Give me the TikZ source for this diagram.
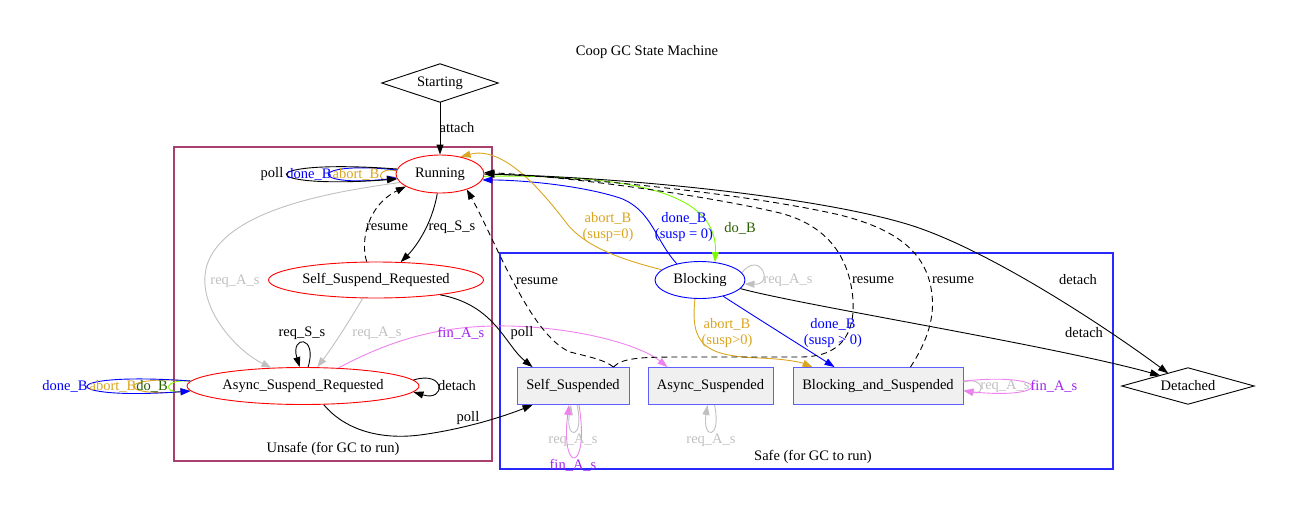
\documentclass[tikz,border=0pt]{standalone}
\usepackage{fontspec}
\setmainfont{Liberation Serif}
\usetikzlibrary{arrows.meta,calc,shapes.geometric}
\definecolor{maroonc}{RGB}{168,64,110}
\definecolor{safeblue}{RGB}{0,0,255}
\definecolor{clblue}{RGB}{40,40,255}
\definecolor{goldc}{RGB}{218,165,32}
\definecolor{greenc}{RGB}{124,252,0}
\definecolor{dgreen}{RGB}{40,95,0}
\definecolor{grayc}{RGB}{192,192,192}
\definecolor{violetc}{RGB}{238,130,238}
\definecolor{purplec}{RGB}{160,32,240}
\definecolor{boxfill}{RGB}{240,240,240}
\definecolor{boxline}{RGB}{95,95,255}
\tikzset{
  every node/.style={font=\fontsize{14.5}{16.5}\selectfont},
  ellnode/.style={ellipse, draw=red, line width=0.9pt, inner sep=0pt},
  boxnode/.style={rectangle, draw=boxline, fill=boxfill, line width=0.9pt, inner sep=0pt, minimum height=37pt},
  lbl/.style={inner sep=0pt, align=center},
  conn/.style={line width=0.9pt, -{Triangle[length=10pt,width=7pt]}},
  dconn/.style={conn, dash pattern=on 6pt off 4pt},
  clusterline/.style={line width=1.1pt}
}
\begin{document}
\begin{tikzpicture}[x=1pt,y=-1pt]
\useasboundingbox (0,0) rectangle (1295,520);

% clusters
\draw[clusterline, draw=maroonc] (174,147) rectangle (492,461);
\draw[clusterline, draw=clblue] (500,253) rectangle (1113,469);
\node[lbl] (unsafe) at (333,449) {Unsafe (for GC to run)};
\node[lbl] (safe) at (813,457) {Safe (for GC to run)};
\node[lbl] (title) at (647,52) {Coop GC State Machine};

% nodes
\node[minimum width=116pt, minimum height=38pt, inner sep=0pt] (Starting) at (440,83) {Starting};
\draw[line width=0.9pt] (Starting.north) -- (Starting.east) -- (Starting.south) -- (Starting.west) -- cycle;
\node[minimum width=132pt, minimum height=36pt, inner sep=0pt] (Detached) at (1188,386) {Detached};
\draw[line width=0.9pt] (Detached.north) -- (Detached.east) -- (Detached.south) -- (Detached.west) -- cycle;
\node[ellnode, minimum width=88pt, minimum height=38pt] (Running) at (440,174) {Running};
\node[ellnode, minimum width=215pt, minimum height=36pt] (SSR) at (376,280) {Self\_Suspend\_Requested};
\node[ellnode, minimum width=232pt, minimum height=37pt] (ASR) at (303,386) {Async\_Suspend\_Requested};
\node[ellnode, draw=safeblue, minimum width=90pt, minimum height=37pt] (Blocking) at (700,280) {Blocking};
\node[boxnode, minimum width=112pt] (SS) at (573,386) {Self\_Suspended};
\node[boxnode, minimum width=125pt] (AS) at (710.5,386) {Async\_Suspended};
\node[boxnode, minimum width=170pt] (BaS) at (878,386) {Blocking\_and\_Suspended};

% Starting -> Running
\draw[conn] (Starting.south) -- (Running.north);
\node[lbl] (l-attach) at (457,128) {attach};

% Running -> SSR
\draw[conn] (Running.-98) .. controls (432,225) and (415,248) .. (SSR.36);
\node[lbl] (l-reqS1) at (452,227) {req\_S\_s};
% SSR -> Running resume
\draw[dconn] (SSR.117) .. controls (360,240) and (368,205) .. (Running.-160);
\node[lbl] (l-res1) at (387,227) {resume};

% Running -> ASR req_A_s
\draw[conn, grayc] (Running.-168) .. controls (330,192) and (225,210) .. (207,265) .. controls (195,305) and (235,350) .. (ASR.150);
\node[lbl, text=grayc] (l-reqA1) at (235,281) {req\_A\_s};
% SSR -> ASR req_A_s
\draw[conn, grayc] (SSR.-126) .. controls (350,320) and (332,348) .. (ASR.53);
\node[lbl, text=grayc] (l-reqA2) at (377,333) {req\_A\_s};

% ASR loops
\draw[conn] (ASR.75) .. controls (318,335) and (290,335) .. (ASR.100);
\node[lbl] (l-reqS2) at (302,333) {req\_S\_s};
\draw[conn] ([yshift=6pt,xshift=-6pt]ASR.east) .. controls (446,370) and (446,402) .. ([yshift=-6pt,xshift=-6pt]ASR.east);
\node[lbl] (l-det1) at (457,386) {detach};
\draw[conn, greenc] ([yshift=5pt,xshift=4pt]ASR.west) .. controls (163,379) and (163,393) .. ([yshift=-5pt,xshift=4pt]ASR.west);
\draw[conn, goldc] ([yshift=5pt,xshift=4pt]ASR.west) .. controls (116,375) and (116,397) .. ([yshift=-5pt,xshift=4pt]ASR.west);
\draw[conn, safeblue] ([yshift=5pt,xshift=4pt]ASR.west) .. controls (54,371) and (54,401) .. ([yshift=-5pt,xshift=4pt]ASR.west);
\node[lbl, text=safeblue] (l-doneA) at (65,386) {done\_B};
\node[lbl, text=goldc] (l-abortA) at (113,386) {abort\_B};
\node[lbl, text=dgreen] (l-doA) at (152,386) {do\_B};

% Running loops
\draw[conn, goldc] ([yshift=3pt,xshift=1.5pt]Running.west) .. controls (377,166) and (377,182) .. ([yshift=-3pt,xshift=1.5pt]Running.west);
\draw[conn, safeblue] ([yshift=4pt,xshift=1.5pt]Running.west) .. controls (307,160) and (307,188) .. ([yshift=-4pt,xshift=1.5pt]Running.west);
\draw[conn] ([yshift=5pt,xshift=1.5pt]Running.west) .. controls (251,158) and (251,190) .. ([yshift=-5pt,xshift=1.5pt]Running.west);
\node[lbl] (l-poll0) at (272,174) {poll};
\node[lbl, text=safeblue] (l-doneR) at (309,174) {done\_B};
\node[lbl, text=goldc] (l-abortR) at (356,174) {abort\_B};

% ASR -> AS fin_A_s
\draw[conn, violetc] (ASR.27.5) .. controls (400,335) and (450,325) .. (510,326) .. controls (580,328) and (640,345) .. ([xshift=20pt]AS.north west);
\node[lbl, text=purplec] (l-fin1) at (461,333) {fin\_A\_s};

% SSR -> SS poll
\draw[conn] (SSR.-13) .. controls (495,305) and (505,345) .. ([xshift=16pt]SS.north west);
\node[lbl] (l-poll1) at (522,333) {poll};
% ASR -> SS poll
\draw[conn] (ASR.-42) .. controls (345,430) and (380,440) .. (420,435) .. controls (465,429) and (505,416) .. ([xshift=16pt]SS.south west);
\node[lbl] (l-poll2) at (468,418) {poll};

% Running -> Blocking do_B
\draw[conn, greenc] (Running.-3) .. controls (640,174) and (718,195) .. (Blocking.50);
\node[lbl, text=dgreen] (l-doB) at (740,228) {do\_B};
% Blocking -> Running done_B
\draw[conn, safeblue] (Blocking.145) .. controls (655,240) and (652,210) .. (620,198) .. controls (580,185) and (520,180) .. (Running.-8);
\node[lbl, text=safeblue] (l-doneB0) at (684,227) {done\_B\\(susp = 0)};
% Blocking -> Running abort_B
\draw[conn, goldc] (Blocking.165) .. controls (615,258) and (585,245) .. (568,225) .. controls (545,195) and (505,145) .. (Running.40);
\node[lbl, text=goldc] (l-abortB0) at (608,227) {abort\_B\\(susp=0)};

% Blocking loop
\draw[conn, grayc] (Blocking.10) .. controls (760,250) and (775,285) .. (Blocking.-5);
\node[lbl, text=grayc] (l-reqA3) at (788,280) {req\_A\_s};

% Blocking -> BaS
\draw[conn, goldc] (Blocking.-105) .. controls (690,345) and (705,356) .. (760,358) .. controls (785,359) and (800,362) .. ([xshift=20pt]BaS.north west);
\node[lbl, text=goldc] (l-abortB1) at (727,333) {abort\_B\\(susp>0)};
\draw[conn, safeblue] (Blocking.-35) .. controls (760,320) and (800,345) .. ([xshift=42pt]BaS.north west);
\node[lbl, text=safeblue] (l-doneB1) at (833,333) {done\_B\\(susp > 0)};

% resume edges
\draw[dconn] ([xshift=-16pt]SS.north east) .. controls (605,360) and (590,357) .. (570,352) .. controls (530,335) and (495,240) .. (Running.-30);
\node[lbl] (l-res2) at (537,281) {resume};
\draw[dconn] ([xshift=-16pt]SS.north east) .. controls (622,358) and (640,357) .. (680,357) -- (800,357) .. controls (840,357) and (855,335) .. (853,300) .. controls (850,260) and (830,226) .. (780,213) .. controls (700,194) and (560,176) .. (Running.2);
\node[lbl] (l-res3) at (873,280) {resume};
\draw[dconn] ([xshift=-53pt]BaS.north east) .. controls (925,345) and (935,320) .. (932,295) .. controls (928,255) and (900,230) .. (840,215) .. controls (740,192) and (560,176) .. (Running.east);
\node[lbl] (l-res4) at (953,280) {resume};

% detach edges
\draw[conn] (Running.east) .. controls (650,178) and (830,200) .. (910,225) .. controls (990,250) and (1110,330) .. ($(Detached.north)!0.3!(Detached.west)$);
\node[lbl] (l-det2) at (1078,280) {detach};
\draw[conn] (Blocking.-12) .. controls (800,305) and (1050,345) .. ($(Detached.north)!0.42!(Detached.west)$);
\node[lbl] (l-det3) at (1084,333) {detach};

% SS loops
\draw[conn, grayc] ([xshift=4pt]SS.south) .. controls (585,440) and (565,440) .. ([xshift=-2pt]SS.south);
\draw[conn, violetc] ([xshift=6pt]SS.south) .. controls (590,474) and (560,474) .. ([xshift=-4pt]SS.south);
\node[lbl, text=grayc] (l-reqA4) at (573,440) {req\_A\_s};
\node[lbl, text=purplec] (l-fin2) at (573,465) {fin\_A\_s};

% AS loop
\draw[conn, grayc] ([xshift=4pt]AS.south) .. controls (722,440) and (702,440) .. ([xshift=-3pt]AS.south);
\node[lbl, text=grayc] (l-reqA5) at (711,440) {req\_A\_s};

% BaS loops
\draw[conn, grayc] ([yshift=4pt]BaS.east) .. controls (985,376) and (985,396) .. ([yshift=-4pt]BaS.east);
\draw[conn, violetc] ([yshift=5pt]BaS.east) .. controls (1053,372) and (1053,400) .. ([yshift=-5pt]BaS.east);
\node[lbl, text=grayc] (l-reqA6) at (1005,386) {req\_A\_s};
\node[lbl, text=purplec] (l-fin3) at (1054,386) {fin\_A\_s};
\end{tikzpicture}
\end{document}
